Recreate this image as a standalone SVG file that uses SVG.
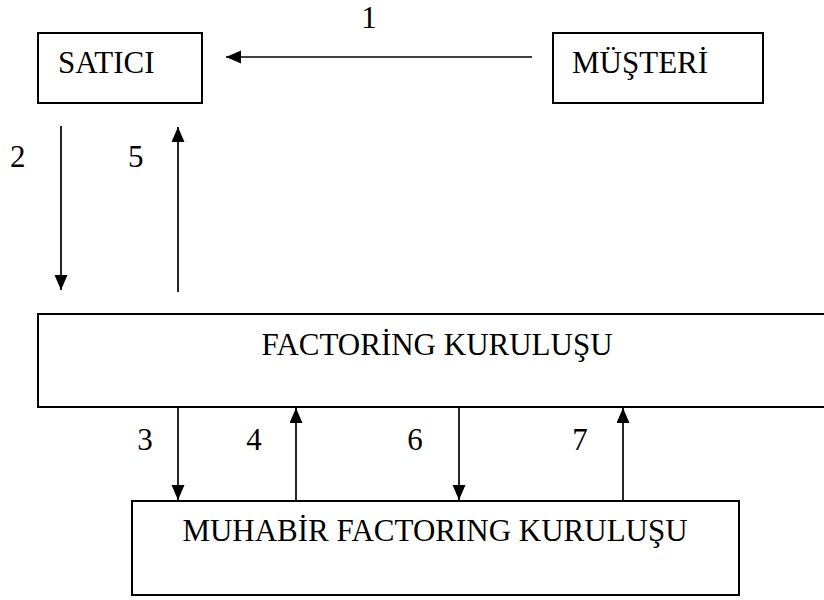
<svg xmlns="http://www.w3.org/2000/svg" width="824" height="600" viewBox="0 0 824 600">
  <style>
    .box { fill: #ffffff; stroke: #000000; stroke-width: 2; }
    .lbl { font-family: "Liberation Serif", "Times New Roman", serif; font-size: 31px; fill: #000000; }
    .conn { stroke: #000000; stroke-width: 1.7; fill: none; marker-end: url(#ah); }
  </style>
  <defs>
    <marker id="ah" markerUnits="userSpaceOnUse" markerWidth="16" markerHeight="14" refX="15" refY="6.5" orient="auto">
      <path d="M0,0 L15,6.5 L0,13 z" fill="#000000"/>
    </marker>
  </defs>
  <rect x="0" y="0" width="824" height="600" fill="#ffffff"/>

  <g id="satici">
    <rect class="box" x="38" y="33" width="164" height="70"/>
    <text class="lbl" x="58" y="73">SATICI</text>
  </g>
  <g id="musteri">
    <rect class="box" x="553" y="33" width="210" height="70"/>
    <text class="lbl" x="572" y="73">MÜŞTERİ</text>
  </g>
  <g id="factoring">
    <rect class="box" x="38" y="314" width="800" height="93"/>
    <text class="lbl" x="437" y="355" text-anchor="middle">FACTORİNG KURULUŞU</text>
  </g>
  <g id="muhabir">
    <rect class="box" x="132" y="501" width="607" height="94"/>
    <text class="lbl" x="435" y="541" text-anchor="middle">MUHABİR FACTORING KURULUŞU</text>
  </g>

  <g id="connectors">
    <line class="conn" x1="532" y1="57" x2="226" y2="57"/>
    <line class="conn" x1="61" y1="126" x2="61" y2="290"/>
    <line class="conn" x1="178" y1="292" x2="178" y2="127"/>
    <line class="conn" x1="178" y1="407" x2="178" y2="500"/>
    <line class="conn" x1="296" y1="501" x2="296" y2="408"/>
    <line class="conn" x1="459" y1="407" x2="459" y2="500"/>
    <line class="conn" x1="623" y1="501" x2="623" y2="408"/>
  </g>

  <g id="labels">
    <text class="lbl" x="369" y="28" text-anchor="middle">1</text>
    <text class="lbl" x="10" y="167">2</text>
    <text class="lbl" x="128" y="167">5</text>
    <text class="lbl" x="145" y="450" text-anchor="middle">3</text>
    <text class="lbl" x="254" y="450" text-anchor="middle">4</text>
    <text class="lbl" x="415" y="450" text-anchor="middle">6</text>
    <text class="lbl" x="580" y="450" text-anchor="middle">7</text>
  </g>
</svg>
